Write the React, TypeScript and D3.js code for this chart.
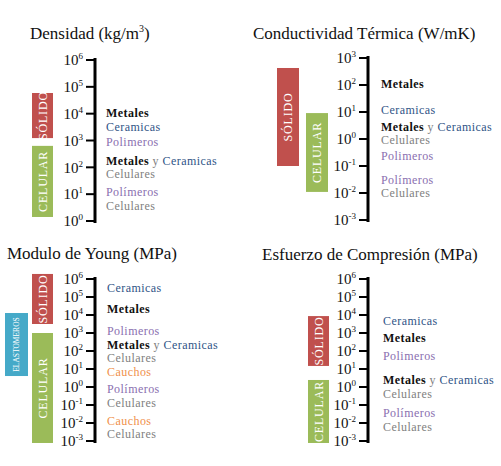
import React from "react";
import * as d3 from "d3";

// ---------- data ----------
const titles = ["Densidad (kg/m³)", "Conductividad Térmica (W/mK)", "Modulo de Young (MPa)", "Esfuerzo de Compresión (MPa)"];

const densidadTicks = [6, 5, 4, 3, 2, 1, 0];
const densidadLabels = ["Metales", "Ceramicas", "Polimeros", "Metales y Ceramicas", "Celulares", "Polímeros", "Celulares"];
const densidadLabelValues = [4.02, 3.5, 2.94, 2.24, 1.75, 1.08, 0.56];
const densidadBands = ["SÓLIDO", "CELULAR"];
const densidadBandFrom = [3.09, 0.15];
const densidadBandTo = [4.77, 2.8];

const conductividadTicks = [3, 2, 1, 0, -1, -2, -3];
const conductividadLabels = ["Metales", "Ceramicas", "Metales y Ceramicas", "Celulares", "Polimeros", "Polímeros", "Celulares"];
const conductividadLabelValues = [2.04, 1.07, 0.44, -0.04, -0.63, -1.52, -2.0];
const conductividadBands = ["SÓLIDO", "CELULAR"];
const conductividadBandFrom = [-1.0, -1.96];
const conductividadBandTo = [2.63, 0.96];

const youngTicks = [6, 5, 4, 3, 2, 1, 0, -1, -2, -3];
const youngLabels = ["Ceramicas", "Metales", "Polimeros", "Metales y Ceramicas", "Celulares", "Cauchos", "Polímeros", "Celulares", "Cauchos", "Celulares"];
const youngLabelValues = [5.5, 4.33, 3.11, 2.33, 1.61, 0.83, -0.11, -0.89, -1.89, -2.61];
const youngBands = ["SÓLIDO", "ELASTOMEROS", "CELULAR"];
const youngBandFrom = [3.5, 0.61, -3.11];
const youngBandTo = [6.28, 4.11, 3.0];

const esfuerzoTicks = [6, 5, 4, 3, 2, 1, 0, -1, -2, -3];
const esfuerzoLabels = ["Ceramicas", "Metales", "Polimeros", "Metales y Ceramicas", "Celulares", "Polímeros", "Celulares"];
const esfuerzoLabelValues = [3.67, 2.72, 1.72, 0.39, -0.39, -1.44, -2.22];
const esfuerzoBands = ["SÓLIDO", "CELULAR"];
const esfuerzoBandFrom = [1.17, -3.11];
const esfuerzoBandTo = [3.94, 0.39];

// ---------- styles ----------
const wordColor: Record<string, string> = {
  Metales: "#111111",
  Ceramicas: "#2f5486",
  Polimeros: "#8a6fb0",
  "Polímeros": "#8a6fb0",
  Celulares: "#808080",
  Cauchos: "#f0904a",
  y: "#808080",
};
const bandColor: Record<string, string> = {
  "SÓLIDO": "#c0504d",
  CELULAR: "#9bbb59",
  ELASTOMEROS: "#45a9c8",
};
const FONT = "'Liberation Serif', 'DejaVu Serif', serif";

type PanelProps = {
  title: string;
  titleX: number;
  titleY: number;
  axisX: number;
  labelX: number;
  domain: [number, number];
  range: [number, number];
  ticks: number[];
  labels: string[];
  labelValues: number[];
  bands: string[];
  bandFrom: number[];
  bandTo: number[];
  bandX: number[];
  bandW: number[];
  bandFont: number[];
};

function LabelText({ text, x, y }: { text: string; x: number; y: number }) {
  const words = text.split(" ");
  return (
    <text x={x} y={y} dy="0.33em" fontFamily={FONT} fontSize={12} letterSpacing={0.45}>
      {words.map((w, i) => (
        <tspan key={i} fill={wordColor[w] ?? "#333"} fontWeight={w === "Metales" ? "bold" : "normal"}>
          {(i > 0 ? " " : "") + w}
        </tspan>
      ))}
    </text>
  );
}

function Panel(p: PanelProps) {
  const y = d3.scaleLinear().domain(p.domain).range(p.range);
  const top = y(p.domain[0]) - 2;
  const bottom = y(p.domain[1]) + 2;
  return (
    <g>
      <text x={p.titleX} y={p.titleY} fontFamily={FONT} fontSize={17} fill="#111">
        {p.title.includes("³") ? (
          <>
            Densidad (kg/m
            <tspan fontSize={10} dy={-7}>3</tspan>
            <tspan dy={7}>)</tspan>
          </>
        ) : (
          p.title
        )}
      </text>
      <line x1={p.axisX} x2={p.axisX} y1={top} y2={bottom} stroke="#000" strokeWidth={3} />
      {p.ticks.map((t) => (
        <g key={t}>
          <line x1={p.axisX - 9} x2={p.axisX} y1={y(t)} y2={y(t)} stroke="#000" strokeWidth={2} />
          <text x={p.axisX - 12} y={y(t)} dy="0.35em" textAnchor="end" fontFamily={FONT} fontSize={15} fill="#111">
            10
            <tspan fontSize={9} dy={-6}>{t < 0 ? "-" + Math.abs(t) : String(t)}</tspan>
          </text>
        </g>
      ))}
      {p.labels.map((l, i) => (
        <LabelText key={i} text={l} x={p.labelX} y={y(p.labelValues[i])} />
      ))}
      {p.bands.map((b, i) => {
        const y0 = y(p.bandTo[i]);
        const y1 = y(p.bandFrom[i]);
        const cx = p.bandX[i] + p.bandW[i] / 2;
        const cy = (y0 + y1) / 2;
        return (
          <g key={b}>
            <rect x={p.bandX[i]} y={y0} width={p.bandW[i]} height={y1 - y0} fill={bandColor[b]} />
            <text
              x={cx}
              y={cy}
              transform={`rotate(-90 ${cx} ${cy})`}
              textAnchor="middle"
              dy="0.35em"
              fill="#fff"
              fontFamily={FONT}
              fontSize={p.bandFont[i]}
              letterSpacing={b === "ELASTOMEROS" ? 0 : 0.8}
            >
              {b}
            </text>
          </g>
        );
      })}
    </g>
  );
}

export default function App() {
  return (
    <svg width={501} height={466} style={{ position: "absolute", left: 0, top: 0, background: "#fff" }}>
      <rect width={501} height={466} fill="#fff" />
      <Panel
        title={titles[0]}
        titleX={30}
        titleY={39}
        axisX={95}
        labelX={106}
        domain={[6, 0]}
        range={[60, 221]}
        ticks={densidadTicks}
        labels={densidadLabels}
        labelValues={densidadLabelValues}
        bands={densidadBands}
        bandFrom={densidadBandFrom}
        bandTo={densidadBandTo}
        bandX={[32, 32]}
        bandW={[21, 21]}
        bandFont={[12, 12]}
      />
      <Panel
        title={titles[1]}
        titleX={253}
        titleY={39}
        axisX={368}
        labelX={381}
        domain={[3, -3]}
        range={[58, 220]}
        ticks={conductividadTicks}
        labels={conductividadLabels}
        labelValues={conductividadLabelValues}
        bands={conductividadBands}
        bandFrom={conductividadBandFrom}
        bandTo={conductividadBandTo}
        bandX={[277, 306]}
        bandW={[22, 22]}
        bandFont={[12, 12]}
      />
      <Panel
        title={titles[2]}
        titleX={7}
        titleY={259}
        axisX={95}
        labelX={107}
        domain={[6, -3]}
        range={[279, 441]}
        ticks={youngTicks}
        labels={youngLabels}
        labelValues={youngLabelValues}
        bands={youngBands}
        bandFrom={youngBandFrom}
        bandTo={youngBandTo}
        bandX={[32, 5, 32]}
        bandW={[21, 23, 21]}
        bandFont={[12, 7.5, 12]}
      />
      <Panel
        title={titles[3]}
        titleX={262}
        titleY={260}
        axisX={368}
        labelX={383}
        domain={[6, -3]}
        range={[279, 441]}
        ticks={esfuerzoTicks}
        labels={esfuerzoLabels}
        labelValues={esfuerzoLabelValues}
        bands={esfuerzoBands}
        bandFrom={esfuerzoBandFrom}
        bandTo={esfuerzoBandTo}
        bandX={[308, 308]}
        bandW={[21, 21]}
        bandFont={[12, 12]}
      />
    </svg>
  );
}
